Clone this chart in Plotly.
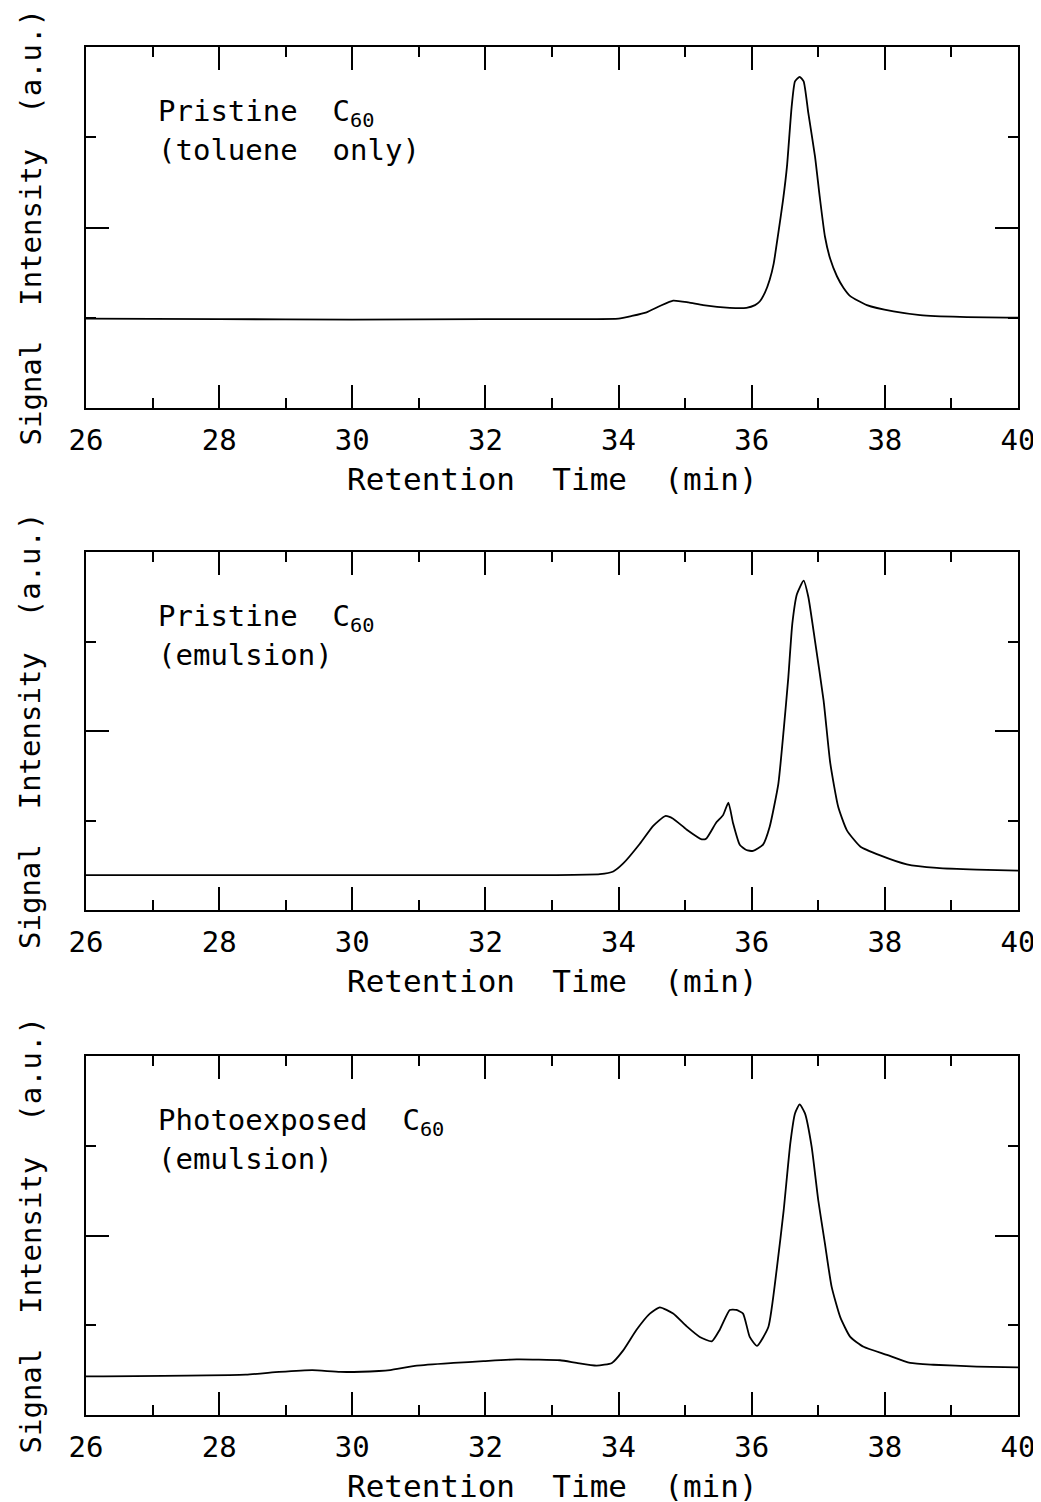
import plotly.graph_objects as go

# ---- data (retention time in min, signal in arbitrary units) ----
x_toluene = [26.0, 28.0, 30.0, 32.0, 33.5, 34.0, 34.2, 34.42, 34.62, 34.82, 35.05, 35.27,
             35.67, 35.92, 36.05, 36.12, 36.2, 36.27, 36.33, 36.40, 36.47, 36.53, 36.60,
             36.65, 36.72, 36.78, 36.85, 36.95, 37.02, 37.10, 37.18, 37.28, 37.38, 37.48,
             37.73, 38.13, 38.53, 39.13, 40.0]
y_toluene = [0.99, 0.985, 0.98, 0.985, 0.985, 0.99, 1.02, 1.06, 1.13, 1.19, 1.17, 1.14,
             1.11, 1.11, 1.14, 1.18, 1.28, 1.42, 1.60, 1.94, 2.30, 2.68, 3.34,
             3.62, 3.67, 3.62, 3.27, 2.79, 2.35, 1.90, 1.65, 1.46, 1.33, 1.24,
             1.14, 1.07, 1.03, 1.01, 1.00]

x_emulsion = [26.0, 30.0, 33.0, 33.72, 33.92, 34.07, 34.32, 34.52, 34.70, 34.82, 35.02,
              35.25, 35.32, 35.47, 35.57, 35.65, 35.72, 35.82, 35.92, 36.02, 36.17, 36.27,
              36.40, 36.48, 36.55, 36.61, 36.68, 36.78, 36.85, 36.95, 37.08, 37.18, 37.30,
              37.43, 37.63, 37.93, 38.33, 38.78, 39.38, 40.0]
y_emulsion = [0.39, 0.39, 0.39, 0.40, 0.43, 0.52, 0.74, 0.94, 1.05, 1.02, 0.90,
              0.79, 0.80, 0.98, 1.06, 1.20, 0.97, 0.73, 0.67, 0.66, 0.73, 0.93,
              1.41, 2.01, 2.60, 3.20, 3.53, 3.68, 3.50, 3.01, 2.34, 1.64, 1.15,
              0.89, 0.71, 0.61, 0.51, 0.47, 0.45, 0.44]

x_photo = [26.0, 28.4, 28.9, 29.4, 29.82, 30.4, 30.57, 30.97, 31.52, 31.97, 32.47, 33.12,
           33.37, 33.67, 33.90, 34.07, 34.27, 34.47, 34.62, 34.82, 35.02, 35.22, 35.40,
           35.52, 35.67, 35.77, 35.87, 35.97, 36.08, 36.25, 36.38, 36.48, 36.58, 36.65,
           36.72, 36.80, 36.90, 37.00, 37.10, 37.20, 37.33, 37.48, 37.68, 38.03, 38.38,
           38.73, 39.38, 40.0]
y_photo = [0.43, 0.45, 0.48, 0.50, 0.48, 0.49, 0.50, 0.55, 0.58, 0.60, 0.62, 0.61,
           0.58, 0.55, 0.58, 0.72, 0.95, 1.13, 1.20, 1.13, 0.99, 0.87, 0.82,
           0.95, 1.17, 1.17, 1.13, 0.87, 0.77, 0.98, 1.65, 2.28, 3.03, 3.36,
           3.46, 3.36, 2.99, 2.39, 1.91, 1.43, 1.09, 0.87, 0.76, 0.67, 0.58,
           0.56, 0.54, 0.53]

x_ticks = [26, 28, 30, 32, 34, 36, 38, 40]
x_tick_labels = ["26", "28", "30", "32", "34", "36", "38", "40"]
NB = "\u00a0"
labels_line1 = ["Pristine" + NB * 2 + "C<sub>60</sub>",
                "Pristine" + NB * 2 + "C<sub>60</sub>",
                "Photoexposed" + NB * 2 + "C<sub>60</sub>"]
labels_line2 = ["(toluene" + NB * 2 + "only)", "(emulsion)", "(emulsion)"]
x_title = "Retention" + NB * 2 + "Time" + NB * 2 + "(min)"
y_title = "Signal" + NB * 2 + "Intensity" + NB * 2 + "(a.u.)"

# ---- layout geometry (pixels in the final page) ----
W, H = 1041, 1502
OFF = 8  # default page margin of the html body
X0, X1 = 86 - OFF, 1018 - OFF
panels_px = [(47 - OFF, 408 - OFF), (552 - OFF, 910 - OFF), (1056 - OFF, 1415 - OFF)]
FONT = "DejaVu Sans Mono"
FS = 29

series = [(x_toluene, y_toluene), (x_emulsion, y_emulsion), (x_photo, y_photo)]

fig = go.Figure()
annotations = []
for i, ((xs, ys), (top, bot)) in enumerate(zip(series, panels_px)):
    n = "" if i == 0 else str(i + 1)
    fig.add_trace(go.Scatter(
        x=xs, y=ys, mode="lines",
        line=dict(color="black", width=1.8, shape="spline", smoothing=0.5),
        xaxis="x" + n, yaxis="y" + n, showlegend=False, hoverinfo="skip"))
    dom_y = [1 - bot / H, 1 - top / H]
    fig.update_layout(**{
        "xaxis" + n: dict(
            domain=[X0 / W, X1 / W], range=[26, 40], anchor="y" + n,
            automargin=False,
            tickmode="array", tickvals=x_ticks, ticktext=x_tick_labels,
            ticks="inside", ticklen=23, tickwidth=1.5, tickcolor="black",
            showline=True, linewidth=2, linecolor="black", mirror="allticks",
            showgrid=False, zeroline=False,
            minor=dict(ticks="inside", ticklen=10, tickwidth=1.5, tickcolor="black",
                       dtick=1, tick0=26, showgrid=False),
            tickfont=dict(family=FONT, size=FS, color="black"),
            ticklabelstandoff=5),
        "yaxis" + n: dict(
            domain=dom_y, range=[0, 4], anchor="x" + n,
            automargin=False,
            tickmode="linear", tick0=0, dtick=2,
            ticks="inside", ticklen=23, tickwidth=1.5, tickcolor="black",
            showline=True, linewidth=2, linecolor="black", mirror="allticks",
            showgrid=False, zeroline=False, showticklabels=False,
            minor=dict(ticks="inside", ticklen=10, tickwidth=1.5, tickcolor="black",
                       dtick=1, tick0=0, showgrid=False)),
    })
    # panel labels
    annotations.append(dict(
        text=labels_line1[i], xref="x" + n, yref="paper", x=27.05,
        y=1 - (top + 66) / H, xanchor="left", yanchor="middle", showarrow=False,
        font=dict(family=FONT, size=FS, color="black")))
    annotations.append(dict(
        text=labels_line2[i], xref="x" + n, yref="paper", x=27.05,
        y=1 - (top + 103) / H, xanchor="left", yanchor="middle", showarrow=False,
        font=dict(family=FONT, size=FS, color="black")))
    # axis titles
    annotations.append(dict(
        text=x_title, xref="paper", yref="paper", x=(X0 + X1) / 2 / W,
        y=1 - (bot + 71) / H, xanchor="center", yanchor="middle", showarrow=False,
        font=dict(family=FONT, size=31, color="black")))
    annotations.append(dict(
        text=y_title, xref="paper", yref="paper", x=(30 - OFF) / W,
        y=1 - (top + bot) / 2 / H, xanchor="center", yanchor="middle",
        textangle=-90, showarrow=False,
        font=dict(family=FONT, size=FS, color="black")))

fig.update_layout(
    width=W, height=H, margin=dict(l=0, r=0, t=0, b=0, autoexpand=False),
    paper_bgcolor="white", plot_bgcolor="white",
    annotations=annotations, showlegend=False)

fig.write_html("out.html")
